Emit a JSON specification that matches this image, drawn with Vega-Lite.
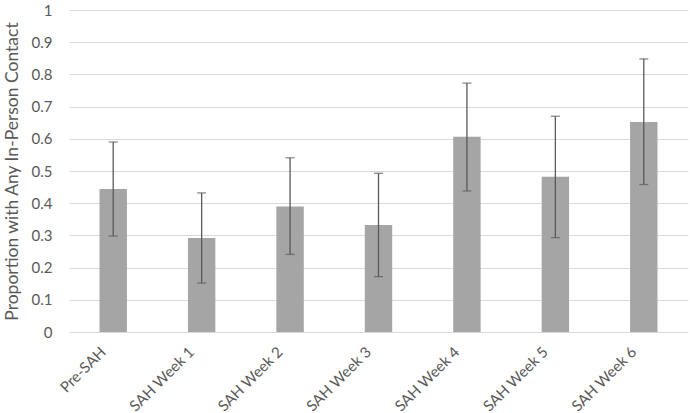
{
  "$schema": "https://vega.github.io/schema/vega-lite/v6.json",
  "autosize": {"type": "none"},
  "padding": {"left": 69, "top": 10, "right": 2, "bottom": 81},
  "width": 619,
  "height": 322,
  "background": "white",
  "config": {
    "view": {"stroke": null},
    "font": "Lato",
    "axis": {"labelFont": "Lato", "titleFont": "Lato"},
    "axisY": {
      "titleFontSize": 17.5,
      "titleFontWeight": "normal",
      "titleColor": "#595959",
      "titlePadding": 10,
      "labelOverlap": false,
      "labelFontSize": 15,
      "labelColor": "#595959",
      "labelPadding": 17,
      "ticks": false,
      "domain": false,
      "grid": true,
      "gridColor": "#d9d9d9",
      "gridWidth": 1
    }
  },
  "data": {
    "values": [
      {"period": "Pre-SAH", "value": 0.444, "lo": 0.298, "hi": 0.590},
      {"period": "SAH Week 1", "value": 0.292, "lo": 0.152, "hi": 0.432},
      {"period": "SAH Week 2", "value": 0.390, "lo": 0.241, "hi": 0.541},
      {"period": "SAH Week 3", "value": 0.332, "lo": 0.172, "hi": 0.493},
      {"period": "SAH Week 4", "value": 0.606, "lo": 0.438, "hi": 0.773},
      {"period": "SAH Week 5", "value": 0.482, "lo": 0.293, "hi": 0.670},
      {"period": "SAH Week 6", "value": 0.652, "lo": 0.458, "hi": 0.848}
    ]
  },
  "encoding": {
    "x": {
      "field": "period",
      "type": "nominal",
      "sort": null,
      "scale": {"paddingInner": 0.69, "paddingOuter": 0.345},
      "axis": {
        "title": null,
        "labelAngle": -45,
        "labelAlign": "right",
        "labelBaseline": "middle",
        "labelFontSize": 15,
        "labelColor": "#595959",
        "labelPadding": 17,
        "labelOffset": -10,
        "labelOverlap": false,
        "ticks": false,
        "domain": false,
        "grid": false
      }
    }
  },
  "layer": [
    {
      "mark": {"type": "bar", "color": "#a5a5a5"},
      "encoding": {
        "y": {
          "field": "value",
          "type": "quantitative",
          "scale": {"domain": [0, 1], "nice": false},
          "axis": {"title": "Proportion with Any In-Person Contact", "values": [0, 0.1, 0.2, 0.3, 0.4, 0.5, 0.6, 0.7, 0.8, 0.9, 1], "format": ".1~f"}
        }
      }
    },
    {
      "mark": {"type": "rule", "color": "#595959", "strokeWidth": 1.3},
      "encoding": {
        "y": {"field": "lo", "type": "quantitative", "axis": {"title": "Proportion with Any In-Person Contact", "values": [0, 0.1, 0.2, 0.3, 0.4, 0.5, 0.6, 0.7, 0.8, 0.9, 1], "format": ".1~f"}},
        "y2": {"field": "hi"}
      }
    },
    {
      "mark": {"type": "tick", "color": "#595959", "size": 9, "thickness": 1.3},
      "encoding": {"y": {"field": "hi", "type": "quantitative", "axis": {"title": "Proportion with Any In-Person Contact", "values": [0, 0.1, 0.2, 0.3, 0.4, 0.5, 0.6, 0.7, 0.8, 0.9, 1], "format": ".1~f"}}}
    },
    {
      "mark": {"type": "tick", "color": "#595959", "size": 9, "thickness": 1.3},
      "encoding": {"y": {"field": "lo", "type": "quantitative", "axis": {"title": "Proportion with Any In-Person Contact", "values": [0, 0.1, 0.2, 0.3, 0.4, 0.5, 0.6, 0.7, 0.8, 0.9, 1], "format": ".1~f"}}}
    }
  ]
}
